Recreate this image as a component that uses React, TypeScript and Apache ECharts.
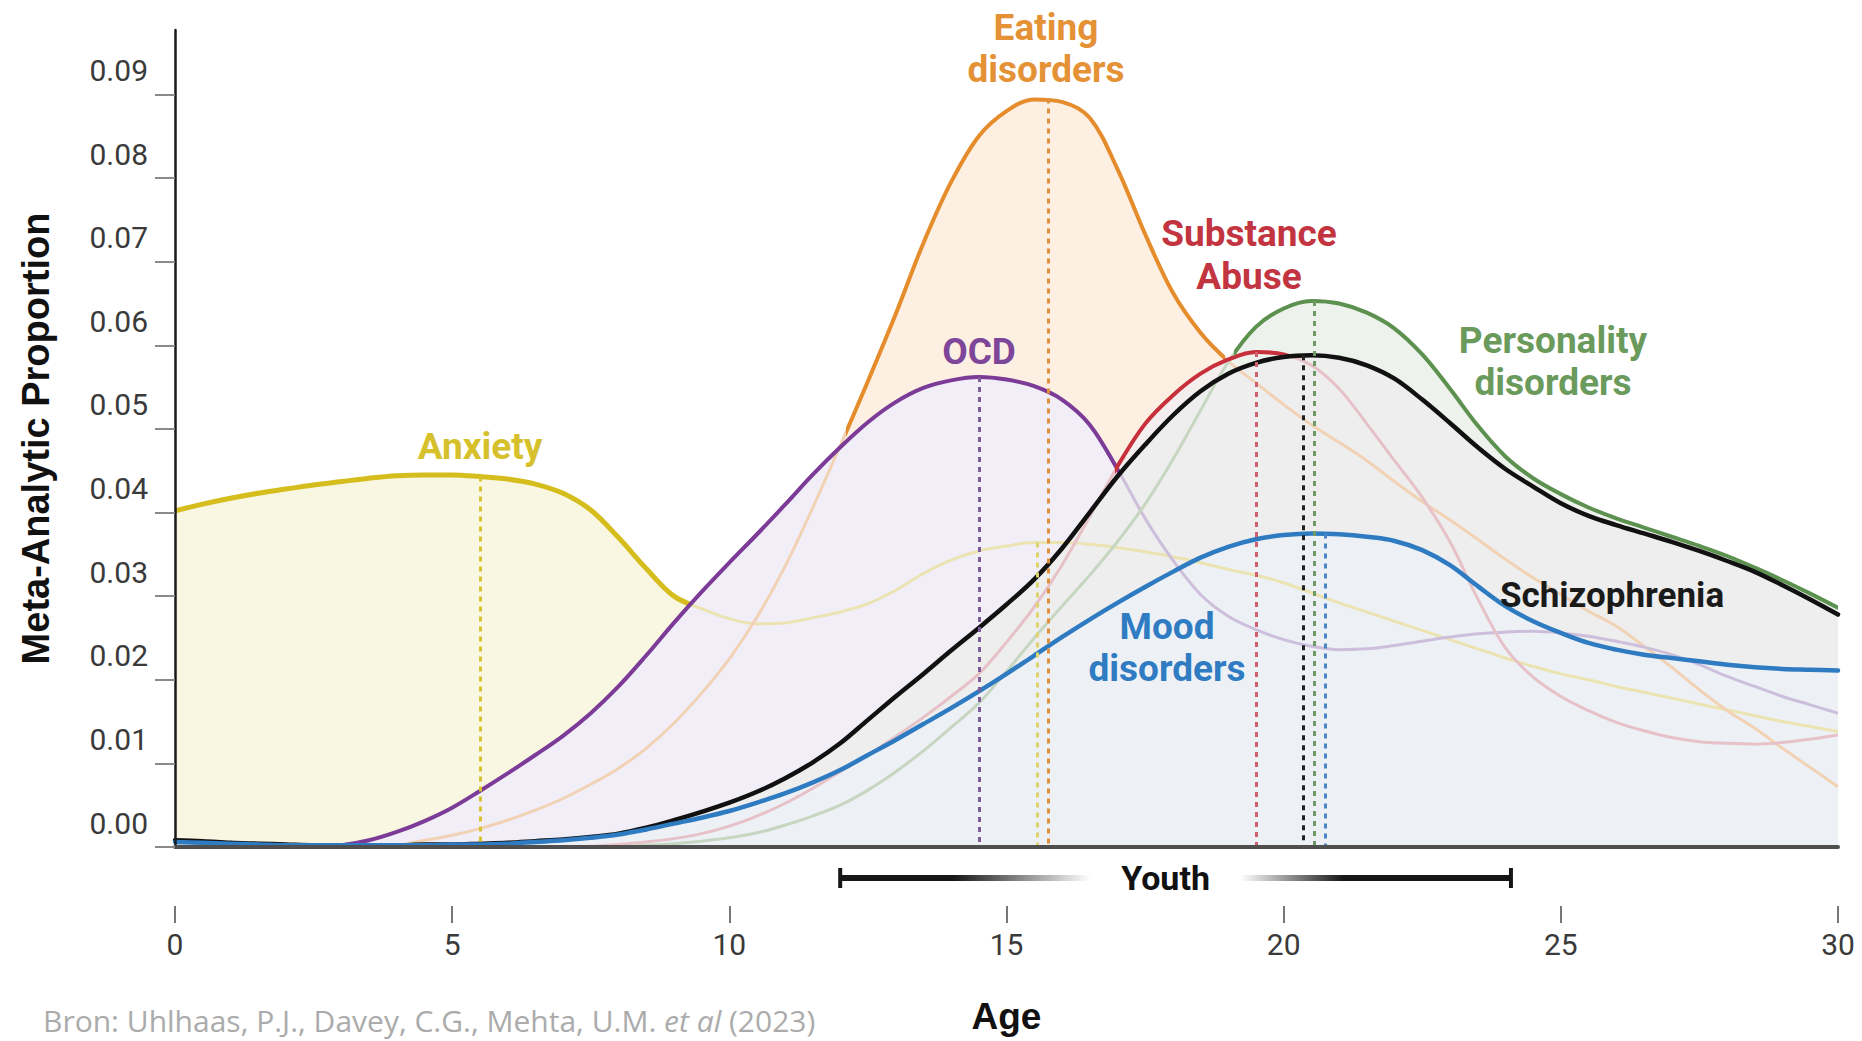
import React, { useEffect, useRef } from "react";
import * as echarts from "echarts";

// ---- data (ages 0..30 in half-year steps) ----
const AGES: number[] = Array.from({ length: 61 }, (_, i) => i * 0.5);

const ANXIETY = [
  0.0402, 0.0410, 0.0417, 0.0423, 0.0428, 0.0433, 0.0437, 0.0441, 0.0444, 0.0445,
  0.0445, 0.0443, 0.0440, 0.0434, 0.0423, 0.0403, 0.0370, 0.0333, 0.0300, 0.0285,
  0.0273, 0.0267, 0.0268, 0.0274, 0.0281, 0.0291, 0.0307, 0.0327, 0.0343, 0.0354,
  0.0360, 0.0364, 0.0364, 0.0362, 0.0358, 0.0353, 0.0347, 0.0340, 0.0332, 0.0325,
  0.0316, 0.0304, 0.0292, 0.0281, 0.0270, 0.0259, 0.0248, 0.0237, 0.0226, 0.0216,
  0.0207, 0.0200, 0.0192, 0.0185, 0.0178, 0.0171, 0.0164, 0.0157, 0.0150, 0.0144,
  0.0138,
];
const OCD = [
  0, 0, 0, 0, 0, 0, 0.0002, 0.0008, 0.0018, 0.0031,
  0.0047, 0.0067, 0.0088, 0.0110, 0.0133, 0.0160, 0.0192, 0.0229, 0.0268, 0.0305,
  0.0340, 0.0374, 0.0409, 0.0445, 0.0478, 0.0508, 0.0532, 0.0549, 0.0558, 0.0562,
  0.0559, 0.0551, 0.0535, 0.0505, 0.0452, 0.0393, 0.0343, 0.0302, 0.0276, 0.0260,
  0.0248, 0.0240, 0.0236, 0.0237, 0.0241, 0.0246, 0.0251, 0.0255, 0.0257, 0.0258,
  0.0256, 0.0252, 0.0246, 0.0239, 0.0230, 0.0218, 0.0204, 0.0192, 0.0180, 0.0170,
  0.0160,
];
const EATING = [
  0, 0, 0, 0, 0, 0, 0, 0, 0.0002, 0.0008,
  0.0014, 0.0022, 0.0032, 0.0044, 0.0058, 0.0075, 0.0094, 0.0118, 0.0148, 0.0184,
  0.0225, 0.0275, 0.0335, 0.0405, 0.0480, 0.0557, 0.0637, 0.0722, 0.0795, 0.0850,
  0.0880, 0.0894, 0.0891, 0.0872, 0.0811, 0.0733, 0.0663, 0.0615, 0.0581, 0.0555,
  0.0529, 0.0505, 0.0484, 0.0462, 0.0437, 0.0413, 0.0391, 0.0368, 0.0344, 0.0322,
  0.0302, 0.0282, 0.0264, 0.0240, 0.0215, 0.0188, 0.0163, 0.0142, 0.0118, 0.0095,
  0.0072,
];
const SUBSTANCE = [
  0, 0, 0, 0, 0, 0, 0, 0, 0, 0,
  0, 0, 0, 0, 0, 0.0001, 0.0003, 0.0006, 0.0010, 0.0016,
  0.0025, 0.0037, 0.0052, 0.0070, 0.0090, 0.0110, 0.0132, 0.0155, 0.0180, 0.0207,
  0.0245, 0.0287, 0.0337, 0.0395, 0.0455, 0.0506, 0.0540, 0.0566, 0.0583, 0.0592,
  0.0589, 0.0576, 0.0548, 0.0506, 0.0462, 0.0418, 0.0365, 0.0297, 0.0238, 0.0203,
  0.0180, 0.0163, 0.0149, 0.0139, 0.0131, 0.0126, 0.0124, 0.0123, 0.0125, 0.0129,
  0.0134,
];
const PERSONALITY = [
  0, 0, 0, 0, 0, 0, 0, 0, 0, 0,
  0, 0, 0, 0, 0, 0, 0, 0.0002, 0.0004, 0.0007,
  0.0011, 0.0017, 0.0026, 0.0037, 0.0050, 0.0068, 0.0090, 0.0115, 0.0143, 0.0172,
  0.0210, 0.0250, 0.0288, 0.0325, 0.0365, 0.0410, 0.0463, 0.0522, 0.0580, 0.0622,
  0.0644, 0.0653, 0.0650, 0.0639, 0.0620, 0.0589, 0.0548, 0.0504, 0.0467, 0.0441,
  0.0422, 0.0406, 0.0393, 0.0382, 0.0371, 0.0360, 0.0348, 0.0334, 0.0319, 0.0303,
  0.0286,
];
const SCHIZOPHRENIA = [
  0.0008, 0.0007, 0.0005, 0.0004, 0.0003, 0.0002, 0.0002, 0.0002, 0.0002, 0.0003,
  0.0003, 0.0004, 0.0005, 0.0007, 0.0009, 0.0012, 0.0016, 0.0023, 0.0032, 0.0042,
  0.0053, 0.0066, 0.0082, 0.0101, 0.0124, 0.0152, 0.0180, 0.0207, 0.0235, 0.0262,
  0.0290, 0.0320, 0.0357, 0.0400, 0.0443, 0.0481, 0.0516, 0.0545, 0.0566, 0.0579,
  0.0586, 0.0588, 0.0585, 0.0576, 0.0560, 0.0535, 0.0507, 0.0478, 0.0452, 0.0431,
  0.0411, 0.0396, 0.0385, 0.0375, 0.0365, 0.0354, 0.0342, 0.0329, 0.0313, 0.0296,
  0.0278,
];
const MOOD = [
  0.0006, 0.0005, 0.0004, 0.0003, 0.0002, 0.0002, 0.0002, 0.0002, 0.0002, 0.0002,
  0.0003, 0.0003, 0.0004, 0.0006, 0.0008, 0.0011, 0.0015, 0.0021, 0.0028, 0.0035,
  0.0043, 0.0053, 0.0064, 0.0077, 0.0092, 0.0110, 0.0128, 0.0147, 0.0166, 0.0186,
  0.0207, 0.0229, 0.0251, 0.0272, 0.0292, 0.0311, 0.0329, 0.0346, 0.0359, 0.0368,
  0.0373, 0.0375, 0.0374, 0.0371, 0.0366, 0.0355, 0.0337, 0.0312, 0.0288, 0.0270,
  0.0256, 0.0244, 0.0236, 0.0230, 0.0226, 0.0222, 0.0218, 0.0215, 0.0213, 0.0212,
  0.0211,
];

// peak markers [age, value]
const ANXIETY_PEAKS = [[5.5, 0.0443], [15.55, 0.0364]];
const OCD_PEAKS = [[14.5, 0.0562]];
const EATING_PEAKS = [[15.75, 0.0895]];
const SUBSTANCE_PEAKS = [[19.5, 0.0592]];
const PERSONALITY_PEAKS = [[20.55, 0.0653]];
const SCHIZOPHRENIA_PEAKS = [[20.35, 0.0588]];
const MOOD_PEAKS = [[20.75, 0.0375]];

// age ranges where each curve is drawn prominently
const ANXIETY_SOLID = [0, 9.3];
const OCD_SOLID = [2.6, 17.05];
const EATING_SOLID = [12.1, 18.95];
const SUBSTANCE_SOLID = [16.95, 20.1];
const PERSONALITY_SOLID = [19.1, 30];

const Y_TICKS = [0, 0.01, 0.02, 0.03, 0.04, 0.05, 0.06, 0.07, 0.08, 0.09];
const YOUTH = [12, 24.1];

// ---- styling table (order = painting order) ----
const DISORDERS = [
  { key: "anxiety", values: ANXIETY, solid: ANXIETY_SOLID, peaks: ANXIETY_PEAKS,
    color: "#d5bd1d", faded: "#ebe4b2", fill: "#f9f6e1", width: 5, dash: ["#d6c32e", "#dcd36a"] },
  { key: "eating", values: EATING, solid: EATING_SOLID, peaks: EATING_PEAKS,
    color: "#e58c2c", faded: "#f1d2b4", fill: "#fdf0e2", width: 4, dash: ["#e0903c"] },
  { key: "ocd", values: OCD, solid: OCD_SOLID, peaks: OCD_PEAKS,
    color: "#7b3b97", faded: "#cdbfdc", fill: "#f2eef8", width: 4, dash: ["#7d5c98"] },
  { key: "substance", values: SUBSTANCE, solid: SUBSTANCE_SOLID, peaks: SUBSTANCE_PEAKS,
    color: "#c72f3a", faded: "#e6c1c7", fill: "#f4eeef", width: 4, dash: ["#d0606e"] },
  { key: "personality", values: PERSONALITY, solid: PERSONALITY_SOLID, peaks: PERSONALITY_PEAKS,
    color: "#5d9150", faded: "#c6d6c1", fill: "#eef2ec", width: 4, dash: ["#6f9a66"] },
  { key: "schizophrenia", values: SCHIZOPHRENIA, solid: null, peaks: SCHIZOPHRENIA_PEAKS,
    color: "#111111", faded: null, fill: "#eeeeee", width: 4.5, dash: ["#222222"] },
  { key: "mood", values: MOOD, solid: null, peaks: MOOD_PEAKS,
    color: "#2f7bc1", faded: null, fill: "#edf1f6", width: 4.5, dash: ["#4a86c4"] },
];

const SMOOTH = 0.35;

function toData(vals: number[]) {
  // drop the leading run of zeros (keep the last zero so the curve starts on the baseline)
  let first = vals.findIndex((v) => v !== 0);
  if (first < 0) first = vals.length;
  return AGES.map((a, i) => [a, i < first - 1 ? null : vals[i]]);
}

function buildOption() {
  const series: any[] = [];
  const visualMap: any[] = [];

  // fills
  DISORDERS.forEach((d) => {
    series.push({
      type: "line", name: d.key + "-fill", data: toData(d.values), smooth: SMOOTH,
      symbol: "none", silent: true, lineStyle: { width: 0, opacity: 0 },
      areaStyle: { color: d.fill, opacity: 1 },
    });
  });
  // faded full curves
  DISORDERS.forEach((d) => {
    if (!d.faded) return;
    series.push({
      type: "line", name: d.key + "-faded", data: toData(d.values), smooth: SMOOTH,
      symbol: "none", silent: true, lineStyle: { width: 3, color: d.faded },
    });
  });
  // prominent curves + peak markers
  DISORDERS.forEach((d) => {
    const idx = series.length;
    const lineStyle: any = { width: d.width, cap: "round", join: "round" };
    if (!d.solid) lineStyle.color = d.color;
    series.push({
      type: "line", name: d.key, data: toData(d.values), smooth: SMOOTH,
      symbol: "none", silent: true, color: d.color,
      lineStyle,
      markLine: {
        silent: true, symbol: ["none", "none"], label: { show: false },
        data: d.peaks.map((p, k) => [
          { coord: [p[0], p[1]], lineStyle: { color: d.dash[k] || d.dash[0], width: 3, type: [5, 5] } },
          { coord: [p[0], 0] },
        ]),
      },
    });
    if (d.solid) {
      visualMap.push({
        type: "piecewise", show: false, dimension: 0, seriesIndex: idx,
        pieces: [{ gte: d.solid[0], lte: d.solid[1], color: d.color }],
        outOfRange: { color: "rgba(255,255,255,0)" },
      });
    }
  });

  // Youth bracket below the axis
  series.push({
    type: "custom", name: "youth", coordinateSystem: "cartesian2d",
    data: [[YOUTH[0], YOUTH[1]]], encode: { x: [0, 1] }, silent: true, clip: false, z: 6,
    renderItem: (_params: any, api: any) => {
      const s = api.coord([api.value(0), 0]);
      const e = api.coord([api.value(1), 0]);
      const y = s[1] + 31;
      const mid = (s[0] + e[0]) / 2;
      const leftEnd = mid - 85;
      const rightStart = mid + 65;
      const black = "#161616";
      return {
        type: "group",
        children: [
          {
            type: "rect", shape: { x: s[0], y: y - 3, width: leftEnd - s[0], height: 6 },
            style: {
              fill: new echarts.graphic.LinearGradient(0, 0, 1, 0, [
                { offset: 0, color: black }, { offset: 0.45, color: black },
                { offset: 1, color: "rgba(22,22,22,0)" },
              ]),
            },
          },
          {
            type: "rect", shape: { x: rightStart, y: y - 3, width: e[0] - rightStart, height: 6 },
            style: {
              fill: new echarts.graphic.LinearGradient(0, 0, 1, 0, [
                { offset: 0, color: "rgba(22,22,22,0)" }, { offset: 0.38, color: black },
                { offset: 1, color: black },
              ]),
            },
          },
          { type: "line", shape: { x1: s[0], y1: y - 10, x2: s[0], y2: y + 10 }, style: { stroke: black, lineWidth: 4 } },
          { type: "line", shape: { x1: e[0], y1: y - 10, x2: e[0], y2: y + 10 }, style: { stroke: black, lineWidth: 4 } },
          {
            type: "text", x: (leftEnd + rightStart) / 2, y: y,
            style: { text: "Youth", fill: "#111", fontFamily: "Roboto", fontWeight: "bold", fontSize: 34, align: "center", verticalAlign: "middle" },
          },
        ],
      };
    },
  });

  const lbl = (text: string, x: number, y: number, fill: string, size = 37, lh = 42) => ({
    type: "text", x, y, silent: true, z: 10,
    style: { text, fill, fontFamily: "Roboto", fontWeight: "bold", fontSize: size, lineHeight: lh, align: "center", verticalAlign: "middle" },
  });

  return {
    animation: false,
    backgroundColor: "#ffffff",
    grid: { left: 175, right: 24, top: 30, bottom: 194, containLabel: false, outerBoundsMode: "none" },
    xAxis: [
      {
        type: "value", min: 0, max: 30, interval: 5, position: "bottom", z: 5,
        axisLine: { show: true, onZero: false, lineStyle: { color: "#4f4f4f", width: 4 } },
        axisTick: { show: false }, axisLabel: { show: false }, splitLine: { show: false },
        name: "Age", nameLocation: "middle", nameGap: 151, nameMoveOverlap: false,
        nameTextStyle: { fontFamily: "Liberation Sans", fontWeight: "bold", fontSize: 37, color: "#111" },
      },
      {
        type: "value", min: 0, max: 30, interval: 5, position: "bottom", offset: 59,
        axisLine: { show: true, onZero: false, lineStyle: { color: "rgba(255,255,255,0)", width: 1 } },
        axisTick: { show: true, length: 17, lineStyle: { color: "#777777", width: 2 } },
        axisLabel: { show: true, fontFamily: "Roboto", fontSize: 30, color: "#3a3a3a", margin: 23 },
        splitLine: { show: false },
      },
    ],
    yAxis: {
      type: "value", min: 0, max: 0.0977, interval: 0.01, z: 5,
      axisLine: { show: true, lineStyle: { color: "#1a1a1a", width: 2.5 } },
      axisTick: { show: true, length: 20, customValues: Y_TICKS, lineStyle: { color: "#8a8a8a", width: 2 } },
      axisLabel: {
        customValues: Y_TICKS, formatter: (v: number) => v.toFixed(2),
        fontFamily: "Roboto", fontSize: 30, color: "#3a3a3a", margin: 27,
        verticalAlign: "bottom", lineHeight: 48,
      },
      splitLine: { show: false },
      name: "Meta-Analytic Proportion", nameLocation: "middle", nameGap: 120, nameMoveOverlap: false,
      nameTextStyle: { fontFamily: "Liberation Sans", fontWeight: "bold", fontSize: 38, color: "#111" },
    },
    visualMap,
    series,
    graphic: [
      lbl("Anxiety", 480, 446, "#d6c12c"),
      lbl("OCD", 979, 351, "#7e4699"),
      lbl("Eating\ndisorders", 1046, 48, "#e59136"),
      lbl("Substance\nAbuse", 1249, 255, "#c23440", 37, 43.5),
      lbl("Personality\ndisorders", 1553, 361, "#6a9a5c"),
      lbl("Schizophrenia", 1612, 595, "#1a1a1a", 35),
      lbl("Mood\ndisorders", 1167, 647, "#2f7cc3"),
      {
        type: "text", x: 43, y: 1020, silent: true,
        style: {
          text: "Bron: Uhlhaas, P.J., Davey, C.G., Mehta, U.M. {i|et al} (2023)",
          fill: "#ababab", fontFamily: "Open Sans", fontSize: 30, align: "left", verticalAlign: "middle",
          rich: { i: { fontFamily: "Open Sans", fontSize: 30, fontStyle: "italic", fill: "#ababab" } },
        },
      },
    ],
  };
}

export default function App() {
  const ref = useRef<HTMLDivElement>(null);
  useEffect(() => {
    if (!ref.current) return;
    const chart = echarts.init(ref.current, null, { renderer: "svg" });
    chart.setOption(buildOption() as any);
    return () => chart.dispose();
  }, []);
  return (
    <div
      ref={ref}
      style={{ position: "fixed", left: 0, top: 0, width: "100vw", height: "100vh", background: "#fff" }}
    />
  );
}
